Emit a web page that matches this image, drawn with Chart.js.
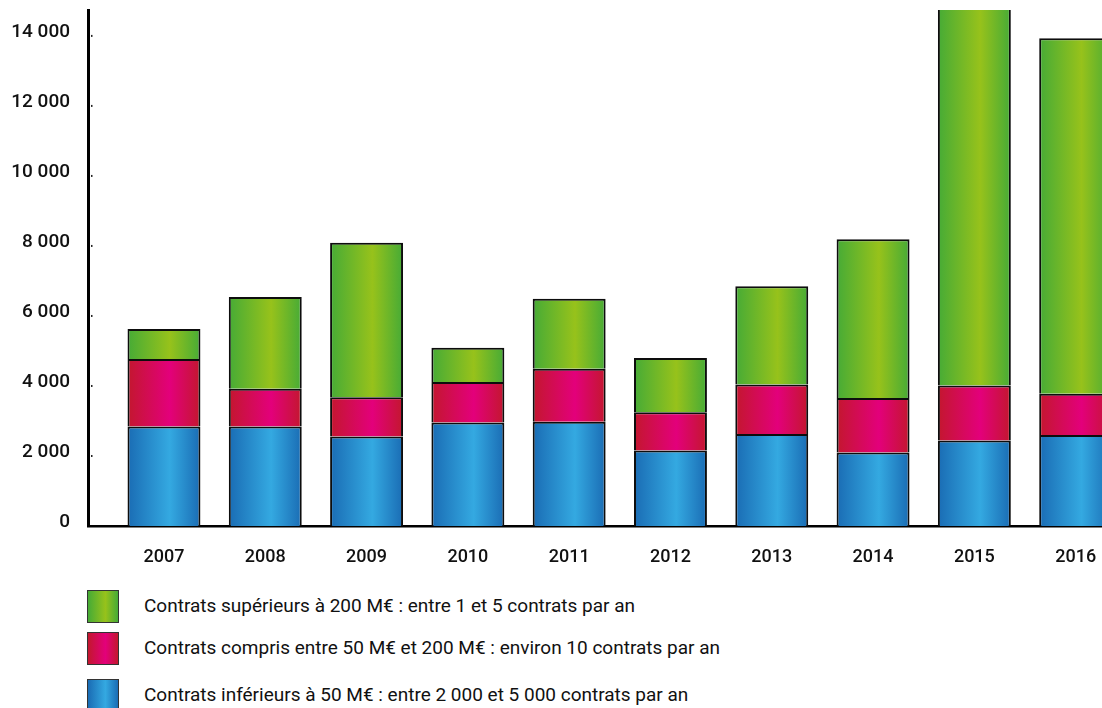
<!DOCTYPE html>
<html lang="fr">
<head>
  <meta charset="UTF-8">
  <title>Prises de commandes</title>
  <script src="https://cdn.jsdelivr.net/npm/chart.js"></script>
  <style>
    body {
      margin: 0;
      background: #fff;
      font-family: Roboto, 'Noto Sans', sans-serif;
      overflow: hidden;
    }

    .wrap {
      position: relative;
      width: 1102px;
      height: 708px;
    }

    #chart {
      position: absolute;
      left: 0;
      top: 0;
    }

    .legend {
      position: absolute;
      left: 87px;
      top: 590px;
    }

    .item {
      position: absolute;
      left: 0;
      width: 700px;
      height: 32px;
    }

    .swatch {
      position: absolute;
      left: 0;
      top: 0;
      width: 30px;
      height: 31px;
      border: 1px solid #333;
    }

    .item span {
      position: absolute;
      left: 57px;
      top: 4px;
      font-size: 19px;
      color: #111;
      white-space: nowrap;
    }
  </style>
</head>
<body>
  <div class="wrap">
    <canvas id="chart" width="1102" height="580"></canvas>
    <div class="legend" id="legend"></div>
  </div>

  <script>
    const years = ['2007', '2008', '2009', '2010', '2011', '2012', '2013', '2014', '2015', '2016'];
    const small = [2840, 2840, 2560, 2960, 2980, 2160, 2630, 2100, 2440, 2600];
    const medium = [1930, 1080, 1120, 1150, 1510, 1090, 1410, 1560, 1570, 1180];
    const large = [860, 2620, 4410, 980, 2000, 1550, 2810, 4530, 12900, 10150];
    const yTicks = [0, 2000, 4000, 6000, 8000, 10000, 12000, 14000];

    const labelLarge = 'Contrats supérieurs à 200 M€ : entre 1 et 5 contrats par an';
    const labelMedium = 'Contrats compris entre 50 M€ et 200 M€ : environ 10 contrats par an';
    const labelSmall = 'Contrats inférieurs à 50 M€ : entre 2 000 et 5 000 contrats par an';

    // edge colour, centre colour
    const blueStops = ['#1a6cb4', '#34a9e1'];
    const redStops = ['#c3172e', '#e3007b'];
    const greenStops = ['#46ab36', '#97c21b'];

    const BAR_PCT = 0.72;

    function barGradient(stops) {
      return function (ctx) {
        const chart = ctx.chart;
        const xs = chart.scales.x;
        if (!xs || !chart.chartArea) return stops[0];
        const cx = xs.getPixelForValue(ctx.dataIndex);
        const step = xs.getPixelForValue(1) - xs.getPixelForValue(0);
        const w = step * BAR_PCT / 2;
        const g = chart.ctx.createLinearGradient(cx - w, 0, cx + w, 0);
        g.addColorStop(0, stops[0]);
        g.addColorStop(0.58, stops[1]);
        g.addColorStop(1, stops[0]);
        return g;
      };
    }

    function fmt(v) {
      return String(v).replace(/\B(?=(\d{3})+(?!\d))/g, ' ');
    }

    function toPoints(arr) {
      return arr.map((v, i) => ({ x: i, y: v }));
    }

    function noPad(scale) {
      scale.paddingTop = 0;
      scale.paddingBottom = 0;
      scale.paddingLeft = 0;
      scale.paddingRight = 0;
    }

    // small dots right of the y axis
    const tickDots = {
      id: 'tickDots',
      afterDraw(chart) {
        const c = chart.ctx;
        const ys = chart.scales.y;
        c.save();
        c.fillStyle = '#222';
        yTicks.forEach(t => {
          if (t === 0) return;
          const y = ys.getPixelForValue(t);
          c.fillRect(chart.chartArea.left + 3, y - 1, 1.5, 2);
        });
        c.restore();
      }
    };

    new Chart(document.getElementById('chart'), {
      type: 'bar',
      data: {
        datasets: [
          { label: labelSmall, data: toPoints(small), backgroundColor: barGradient(blueStops) },
          { label: labelMedium, data: toPoints(medium), backgroundColor: barGradient(redStops) },
          { label: labelLarge, data: toPoints(large), backgroundColor: barGradient(greenStops) }
        ]
      },
      options: {
        responsive: false,
        animation: false,
        layout: { autoPadding: false, padding: { top: 10, right: 0, left: 0, bottom: 0 } },
        datasets: {
          bar: {
            barPercentage: BAR_PCT,
            categoryPercentage: 1,
            borderColor: '#0d0d0d',
            borderWidth: 2
          }
        },
        plugins: {
          legend: { display: false },
          tooltip: { enabled: false }
        },
        scales: {
          x: {
            type: 'linear',
            stacked: true,
            offset: false,
            min: -0.75,
            max: 9.26,
            grid: { display: false, drawTicks: false, offset: false },
            border: { display: true, color: '#000', width: 2.5 },
            afterFit(scale) { scale.height = 54; noPad(scale); },
            ticks: {
              stepSize: 1,
              autoSkip: false,
              includeBounds: false,
              maxRotation: 0,
              padding: 21,
              color: '#111',
              font: { family: 'Roboto', size: 18, weight: '500' },
              callback: v => (Number.isInteger(v) && years[v]) ? years[v] : ''
            }
          },
          y: {
            stacked: true,
            min: 0,
            max: 14740,
            afterFit(scale) { scale.width = 88; noPad(scale); },
            afterBuildTicks(scale) { scale.ticks = yTicks.map(v => ({ value: v })); },
            grid: { display: false, drawTicks: false },
            border: { display: true, color: '#000', width: 3 },
            ticks: {
              padding: 18,
              labelOffset: -4,
              color: '#111',
              font: { family: 'Roboto', size: 19, weight: '500' },
              callback: v => fmt(v)
            }
          }
        }
      },
      plugins: [tickDots]
    });

    // legend, top to bottom: large, medium, small
    const legendRows = [
      { text: labelLarge, stops: greenStops, top: 0 },
      { text: labelMedium, stops: redStops, top: 42 },
      { text: labelSmall, stops: blueStops, top: 89 }
    ];
    const legend = document.getElementById('legend');
    legendRows.forEach(r => {
      const item = document.createElement('div');
      item.className = 'item';
      item.style.top = r.top + 'px';
      const sw = document.createElement('div');
      sw.className = 'swatch';
      sw.style.background = `linear-gradient(to right, ${r.stops[0]}, ${r.stops[1]} 58%, ${r.stops[0]})`;
      const sp = document.createElement('span');
      sp.textContent = r.text;
      item.appendChild(sw);
      item.appendChild(sp);
      legend.appendChild(item);
    });
  </script>
</body>
</html>
